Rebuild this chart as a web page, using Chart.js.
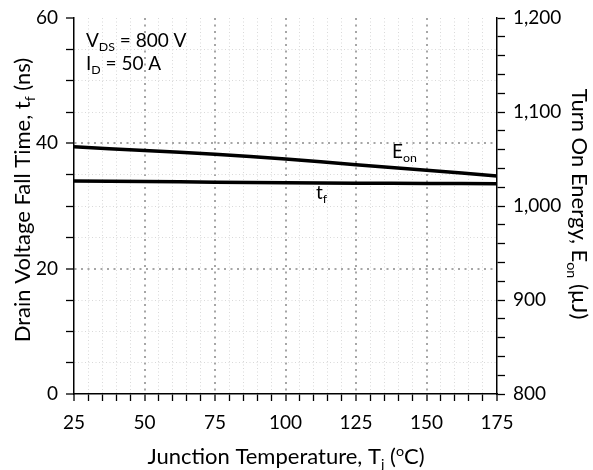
<!DOCTYPE html>
<html>
<head>
<meta charset="utf-8">
<script src="https://cdn.jsdelivr.net/npm/chart.js@4"></script>
<style>
  body { margin: 0; background: #fff; }
  canvas { display: block; }
</style>
</head>
<body>
<canvas id="chart" width="593" height="470"></canvas>
<script>
// values
const temps = [25, 50, 75, 100, 125, 150, 175];
const tfNs = [34.0, 33.9, 33.8, 33.7, 33.65, 33.6, 33.55];
const eonUJ = [1063, 1059, 1055, 1050, 1044, 1038, 1032];

const xTickLabels = [25, 50, 75, 100, 125, 150, 175];
const leftTickLabels = [0, 20, 40, 60];
const rightTickLabels = [800, 900, 1000, 1100, 1200];

const FONT = "Lato, 'Open Sans', sans-serif";

// draw text made of pieces, some lowered (sub) or raised (sup)
function richText(ctx, parts, x, y, size, align) {
  const measure = (p) => {
    ctx.font = (p.sub || p.sup ? size * 0.65 : size) + "px " + FONT;
    return ctx.measureText(p.t).width;
  };
  const total = parts.reduce((s, p) => s + measure(p), 0);
  let cx = align === "center" ? x - total / 2 : x;
  ctx.textAlign = "left";
  ctx.textBaseline = "alphabetic";
  ctx.fillStyle = "#000";
  parts.forEach((p) => {
    const w = measure(p);
    let dy = 0;
    if (p.sub) dy = size * 0.22;
    if (p.sup) dy = -size * 0.38;
    ctx.fillText(p.t, cx, y + dy);
    cx += w;
  });
}

const labelsPlugin = {
  id: "labels",
  afterDraw(chart) {
    const ctx = chart.ctx;
    ctx.save();
    richText(ctx, [{ t: "V" }, { t: "DS", sub: true }, { t: " = 800 V" }], 86, 47, 19, "left");
    richText(ctx, [{ t: "I" }, { t: "D", sub: true }, { t: " = 50 A" }], 86, 70, 19, "left");
    richText(ctx, [{ t: "E" }, { t: "on", sub: true }], 392, 158, 19, "left");
    richText(ctx, [{ t: "t" }, { t: "f", sub: true }], 316, 199, 19, "left");

    richText(ctx, [{ t: "Junction Temperature, T" }, { t: "j", sub: true }, { t: " (" }, { t: "o", sup: true }, { t: "C)" }], 286, 464, 22, "center");

    ctx.save();
    ctx.translate(30, 200);
    ctx.rotate(-Math.PI / 2);
    richText(ctx, [{ t: "Drain Voltage Fall Time, t" }, { t: "f", sub: true }, { t: " (ns)" }], 0, 0, 22, "center");
    ctx.restore();

    ctx.save();
    ctx.translate(572, 204);
    ctx.rotate(Math.PI / 2);
    richText(ctx, [{ t: "Turn On Energy, E" }, { t: "on", sub: true }, { t: " (µJ)" }], 0, 0, 22, "center");
    ctx.restore();
    ctx.restore();
  }
};

const isMajorX = (v) => xTickLabels.includes(Math.round(v));
const isMajorY = (v) => leftTickLabels.includes(Math.round(v));

// fixed axis sizes so the plot area sits where it does in the picture
const fitVertical = (w) => (s) => { s.width = w; s.paddingTop = 0; s.paddingBottom = 0; };

new Chart(document.getElementById("chart"), {
  type: "line",
  data: {
    labels: temps,
    datasets: [
      {
        label: "tf",
        data: tfNs,
        yAxisID: "y",
        borderColor: "#000",
        borderWidth: 3.5,
        tension: 0.4,
        pointRadius: 0,
        fill: false
      },
      {
        label: "Eon",
        data: eonUJ,
        yAxisID: "y1",
        borderColor: "#000",
        borderWidth: 3.5,
        tension: 0.4,
        pointRadius: 0,
        fill: false
      }
    ]
  },
  options: {
    responsive: false,
    animation: false,
    layout: { padding: { top: 18, left: 0, right: 0, bottom: 0 } },
    plugins: { legend: { display: false }, tooltip: { enabled: false } },
    scales: {
      x: {
        type: "linear",
        min: 25,
        max: 175,
        afterFit: (s) => { s.height = 76; s.paddingLeft = 0; s.paddingRight = 0; },
        ticks: {
          stepSize: 5,
          autoSkip: false,
          maxRotation: 0,
          padding: 10,
          color: "#000",
          font: { family: FONT, size: 19 },
          callback: (v) => (isMajorX(v) ? String(Math.round(v)) : "")
        },
        grid: {
          color: (c) => {
            const v = c.tick ? c.tick.value : 0;
            if (v === 25 || v === 175) return "rgba(0,0,0,0)";
            return isMajorX(v) ? "#a6a6a6" : "#d9d9d9";
          },
          lineWidth: (c) => (c.tick && isMajorX(c.tick.value) ? 2 : 1),
          tickColor: "#000",
          tickLength: 7,
          tickWidth: 1.3
        },
        border: {
          color: "#000",
          width: 1.5,
          dash: (c) => (c.tick && isMajorX(c.tick.value) ? [2, 4.5] : [1, 2.5])
        }
      },
      y: {
        position: "left",
        min: 0,
        max: 60,
        afterFit: fitVertical(74),
        ticks: {
          stepSize: 5,
          autoSkip: false,
          padding: 8,
          color: "#000",
          font: { family: FONT, size: 19 },
          callback: (v) => (isMajorY(v) ? String(Math.round(v)) : "")
        },
        grid: {
          color: (c) => {
            const v = c.tick ? c.tick.value : 0;
            if (v === 0 || v === 60) return "rgba(0,0,0,0)";
            return isMajorY(v) ? "#a6a6a6" : "#d9d9d9";
          },
          lineWidth: (c) => (c.tick && isMajorY(c.tick.value) ? 2 : 1),
          tickColor: "#000",
          tickLength: 8,
          tickWidth: 1.3
        },
        border: {
          color: "#000",
          width: 1.5,
          dash: (c) => (c.tick && isMajorY(c.tick.value) ? [2, 4.5] : [1, 2.5])
        }
      },
      y1: {
        position: "right",
        min: 800,
        max: 1200,
        afterFit: fitVertical(96),
        ticks: {
          stepSize: 20,
          autoSkip: false,
          padding: 8,
          color: "#000",
          font: { family: FONT, size: 19 },
          callback: (v) => {
            const r = Math.round(v);
            return rightTickLabels.includes(r) ? r.toLocaleString("en-US") : "";
          }
        },
        grid: {
          drawOnChartArea: false,
          tickColor: "#000",
          tickLength: 8,
          tickWidth: 1.3
        },
        border: { color: "#000", width: 1.5 }
      }
    }
  },
  plugins: [labelsPlugin]
});
</script>
</body>
</html>
